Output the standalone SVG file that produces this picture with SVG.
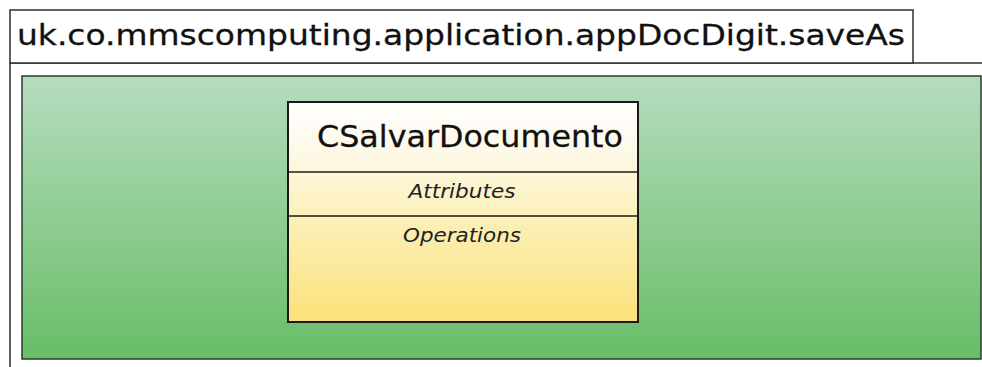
<svg xmlns="http://www.w3.org/2000/svg" width="982" height="367" viewBox="0 0 982 367">
  <defs>
    <linearGradient id="gPkg" x1="0" y1="0" x2="0" y2="1">
      <stop offset="0" stop-color="#b6dcbf"/>
      <stop offset="0.5" stop-color="#8fcd93"/>
      <stop offset="1" stop-color="#68bd67"/>
    </linearGradient>
    <linearGradient id="gCls" x1="0" y1="0" x2="0" y2="1">
      <stop offset="0" stop-color="#ffffff"/>
      <stop offset="0.25" stop-color="#fdf8e4"/>
      <stop offset="0.55" stop-color="#fcefb6"/>
      <stop offset="1" stop-color="#fbe17a"/>
    </linearGradient>
    <style>
      .frame { fill: #ffffff; stroke: #2f2f2f; stroke-width: 1.5; }
      .title { font-family: "DejaVu Sans", "Liberation Sans", sans-serif; font-size: 29px; fill: #111111; stroke: #111111; stroke-width: 0.3; }
      .name { font-family: "DejaVu Sans", "Liberation Sans", sans-serif; font-size: 31px; fill: #111111; stroke: #111111; stroke-width: 0.3; }
      .sect { font-family: "DejaVu Sans", "Liberation Sans", sans-serif; font-size: 19px; font-style: italic; fill: #222222; text-anchor: middle; }
      .line { stroke: #1a1a1a; stroke-width: 1.5; }
    </style>
  </defs>

  <rect width="982" height="367" fill="#ffffff"/>

  <!-- package frame with name tab -->
  <g id="package">
    <rect class="frame" x="10" y="63" width="1000" height="330"/>
    <rect class="frame" x="10" y="10" width="903" height="53"/>
    <text class="title" x="17" y="45" textLength="888" lengthAdjust="spacingAndGlyphs">uk.co.mmscomputing.application.appDocDigit.saveAs</text>
    <rect x="22" y="76" width="959" height="283" fill="url(#gPkg)" stroke="#2b3b2b" stroke-width="1.5"/>
  </g>

  <!-- class box -->
  <g id="CSalvarDocumento">
    <rect x="288" y="102" width="350" height="220" fill="url(#gCls)" stroke="#1a1a1a" stroke-width="2"/>
    <line class="line" x1="288" y1="172" x2="638" y2="172"/>
    <line class="line" x1="288" y1="216" x2="638" y2="216"/>
    <text class="name" x="317" y="147" textLength="306" lengthAdjust="spacingAndGlyphs">CSalvarDocumento</text>
    <text class="sect" x="462" y="198" textLength="107" lengthAdjust="spacingAndGlyphs">Attributes</text>
    <text class="sect" x="462" y="242" textLength="118" lengthAdjust="spacingAndGlyphs">Operations</text>
  </g>

  <g id="connectors"/>
</svg>
